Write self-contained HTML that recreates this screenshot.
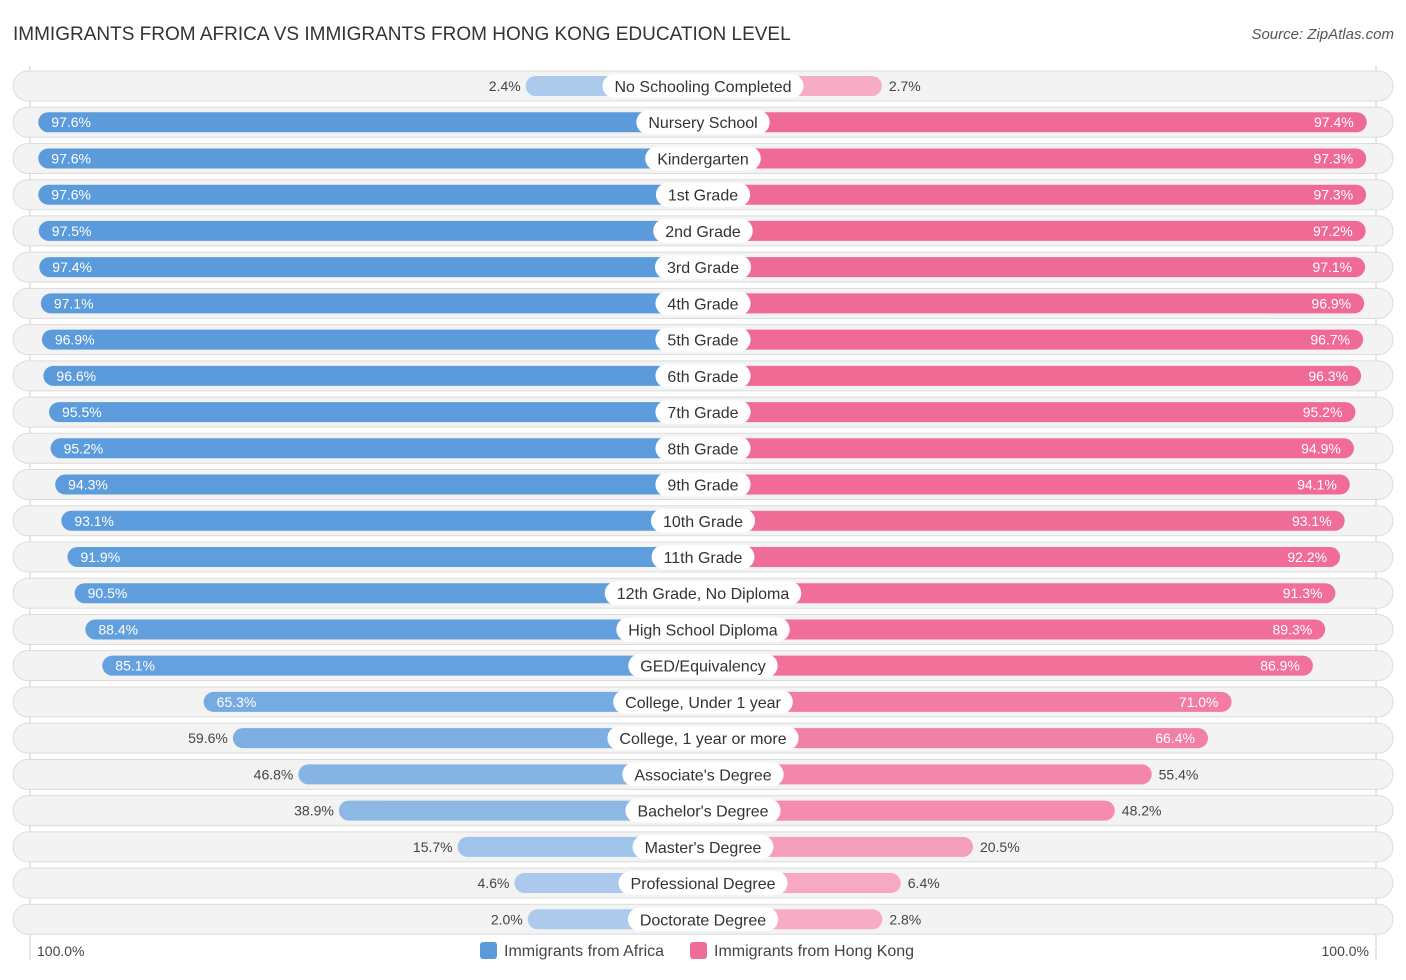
<!DOCTYPE html>
<html><head><meta charset="utf-8"><style>
body{margin:0;background:#fff;font-family:"Liberation Sans",sans-serif;}
svg text{font-family:"Liberation Sans",sans-serif;}
</style></head><body>
<svg id="c" width="1406" height="975">
<text x="13" y="40" font-size="19" fill="#333">IMMIGRANTS FROM AFRICA VS IMMIGRANTS FROM HONG KONG EDUCATION LEVEL</text>
<text x="1394" y="39" font-size="15" fill="#555" font-style="italic" text-anchor="end">Source: ZipAtlas.com</text>
<line x1="30" y1="66" x2="30" y2="960" stroke="#ccc"/>
<line x1="1376" y1="66" x2="1376" y2="960" stroke="#ccc"/>
<g id="rows"></g>
<text x="37" y="956" font-size="14" fill="#444">100.0%</text>
<text x="1369" y="956" font-size="14" fill="#444" text-anchor="end">100.0%</text>
<rect x="480" y="942" width="17" height="17" rx="3" fill="#5b9bdc"/>
<text x="504" y="956" font-size="16" fill="#444">Immigrants from Africa</text>
<rect x="690" y="942" width="17" height="17" rx="3" fill="#f06d97"/>
<text x="714" y="956" font-size="16" fill="#444">Immigrants from Hong Kong</text>
</svg>
<script>
const categories=["No Schooling Completed","Nursery School","Kindergarten","1st Grade","2nd Grade","3rd Grade","4th Grade","5th Grade","6th Grade","7th Grade","8th Grade","9th Grade","10th Grade","11th Grade","12th Grade, No Diploma","High School Diploma","GED/Equivalency","College, Under 1 year","College, 1 year or more","Associate's Degree","Bachelor's Degree","Master's Degree","Professional Degree","Doctorate Degree"];
const africa=[2.4,97.6,97.6,97.6,97.5,97.4,97.1,96.9,96.6,95.5,95.2,94.3,93.1,91.9,90.5,88.4,85.1,65.3,59.6,46.8,38.9,15.7,4.6,2.0];
const hongKong=[2.7,97.4,97.3,97.3,97.2,97.1,96.9,96.7,96.3,95.2,94.9,94.1,93.1,92.2,91.3,89.3,86.9,71.0,66.4,55.4,48.2,20.5,6.4,2.8];
const NS="http://www.w3.org/2000/svg";
const g=document.getElementById('rows');
const cx=703;
function w(v){return 165+5.12*v;}
function rowY(i){return 86+i*36.23;}
function mix(a,b,t){return a.map((x,k)=>Math.round(b[k]+(x-b[k])*t));}
function col(strong,light,v){const t=Math.max(0,Math.min(1,(v-2)/95));const c=mix(strong,light,t);return `rgb(${c[0]},${c[1]},${c[2]})`;}
function mk(tag,attrs){const e=document.createElementNS(NS,tag);for(const k in attrs)e.setAttribute(k,attrs[k]);return e;}
categories.forEach((cat,i)=>{
  const y=rowY(i);
  const bg=mk('rect',{x:13,y:y-15,width:1380,height:30,rx:15,fill:'#f3f3f3',stroke:'#dcdcdc'});
  
  
  g.appendChild(bg);
  const a=africa[i],h=hongKong[i];
  const wa=w(a),wh=w(h);
  const ba=mk('rect',{x:cx-wa,y:y-10,width:wa,height:20,rx:10,fill:col([91,155,220],[172,202,236],a)});
  
  
  g.appendChild(ba);
  const bh=mk('rect',{x:cx,y:y-10,width:wh,height:20,rx:10,fill:col([240,106,150],[247,172,197],h)});
  
  
  g.appendChild(bh);
  const inA=a>=60, inH=h>=60;
  const ta=mk('text',{x:inA?cx-wa+13:cx-wa-5,y:y+5,'font-size':14,fill:inA?'#fff':'#444','text-anchor':inA?'start':'end'});
  ta.textContent=a.toFixed(1)+'%';
  
  
  g.appendChild(ta);
  const th=mk('text',{x:inH?cx+wh-13:cx+wh+7,y:y+5,'font-size':14,fill:inH?'#fff':'#444','text-anchor':inH?'end':'start'});
  th.textContent=h.toFixed(1)+'%';
  
  
  g.appendChild(th);
  const lt=mk('text',{x:cx,y:y+6,'font-size':16,fill:'#333','text-anchor':'middle'});
  lt.textContent=cat;
  
  
  g.appendChild(lt);
  const bw=lt.getComputedTextLength()+24;
  const lb=mk('rect',{x:cx-bw/2,y:y-12,width:bw,height:24,rx:12,fill:'#fff'});
  
  
  g.insertBefore(lb,lt);
});
</script>
</body></html>
